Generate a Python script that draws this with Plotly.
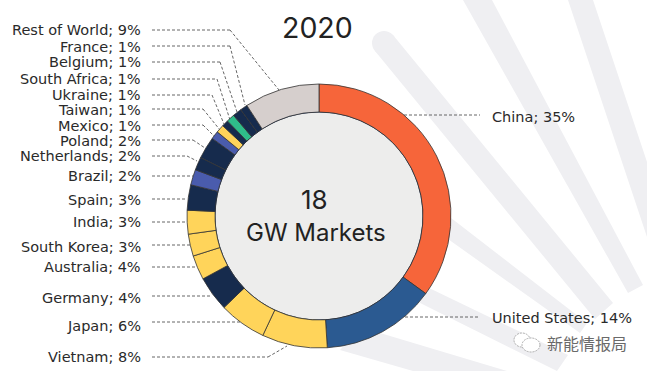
import plotly.graph_objects as go

W, H = 647, 371

# Data (clockwise from 12 o'clock)
markets = ["China", "United States", "Vietnam", "Japan", "Germany", "Australia", "South Korea", "India",
           "Spain", "Brazil", "Netherlands", "Poland", "Mexico", "Taiwan", "Ukraine", "South Africa",
           "Belgium", "France", "Rest of World"]
shares = [35, 14, 8, 5.8, 4.3, 3, 2.7, 2.9, 3.1, 1.9, 1.6, 2.7, 1, 1, 0.8, 1, 1.1, 0.9, 9.2]
printed = [35, 14, 8, 6, 4, 4, 3, 3, 3, 2, 2, 2, 1, 1, 1, 1, 1, 1, 9]
colors = ["#F6653A", "#2B5A91", "#FFD45A", "#FFD45A", "#162B4D", "#FFD45A", "#FFD45A", "#FFD45A",
          "#162B4D", "#4A5CAD", "#162B4D", "#162B4D", "#4A5CAD", "#FFD45A", "#162B4D", "#2FBD8A",
          "#162B4D", "#162B4D", "#D6CFCD"]
title = "2020"
center_number = "18"
center_text = "GW Markets"
watermark = "新能情报局"

# Layout, in page pixels
CX, CY, R, R_IN = 319, 216, 132, 104
LABEL_Y = [117, 318, 357, 326, 298, 267, 247, 222, 200, 176, 156, 141, 125.5, 110, 94.5, 79, 62, 47, 30]
LEADERS = [
    [(404, 115), (480, 115)], [(405, 317), (480, 317)], [(152, 357), (268, 357), (287, 346)],
    [(152, 322), (240, 322)], [(152, 296), (212, 296)], [(152, 267), (196, 267)],
    [(152, 245), (190, 245)], [(152, 222), (187, 222)], [(152, 199), (187, 199)],
    [(152, 176), (193, 176)], [(152, 156), (187, 156), (197, 161)], [(152, 140), (193, 140), (205, 148)],
    [(152, 125), (203, 125), (214, 136)], [(152, 109), (203, 109), (220, 130)],
    [(152, 95), (212, 95), (224, 124)], [(152, 79), (217, 79), (230, 120)],
    [(152, 62), (220, 62), (237, 112)], [(152, 46), (230, 46), (245, 105)],
    [(152, 30), (230, 30), (279, 90)],
]
RAYS = [
    [(463, 0), (492, 0), (643, 285), (628, 293)],
    [(568, 0), (593, 0), (647, 162), (647, 237)],
    [(393, 35), (613, 303), (595, 319), (375, 51)],
    [(420, 194), (587, 323), (580, 333), (410, 212)],
    [(400, 274), (568, 355), (557, 371), (400, 293)],
    [(360, 327), (507, 371), (413, 371), (340, 350)],
]
RAY_COLOR = "#EFEFF2"


def px(x):
    return x / W


def py(y):
    return 1 - y / H


shapes = []
for ray in RAYS:
    d = "M " + " L ".join(f"{px(x):.5f},{py(y):.5f}" for x, y in ray) + " Z"
    shapes.append(dict(type="path", xref="paper", yref="paper", path=d, fillcolor=RAY_COLOR,
                       line=dict(width=0), layer="below"))
shapes.append(dict(type="circle", xref="paper", yref="paper", x0=px(372), x1=px(396), y0=py(55), y1=py(31),
                   fillcolor=RAY_COLOR, line=dict(width=0), layer="below"))
for pts in LEADERS:
    for (x0, y0), (x1, y1) in zip(pts, pts[1:]):
        shapes.append(dict(type="line", xref="paper", yref="paper", x0=px(x0), y0=py(y0), x1=px(x1), y1=py(y1),
                           line=dict(color="#555555", width=0.9, dash="3px,2px"), layer="below"))
shapes.append(dict(type="circle", xref="paper", yref="paper", x0=px(CX - R_IN), x1=px(CX + R_IN),
                   y0=py(CY + R_IN), y1=py(CY - R_IN), fillcolor="#EDEDEC",
                   line=dict(color="#1B3157", width=1), layer="below"))
# WeChat-style mark behind the watermark
for (x0, y0, x1, y1) in [(514, 333, 530, 347), (522, 338, 540, 352)]:
    shapes.append(dict(type="circle", xref="paper", yref="paper", x0=px(x0), x1=px(x1), y0=py(y1), y1=py(y0),
                       fillcolor="#FFFFFF", line=dict(color="#999999", width=0.8, dash="2px,1px"), layer="above"))

FONT = "Inter"
LABEL_FONT = "DejaVu Sans"
INK = "#2A2A2A"
annotations = []
for i, (name, pct, y) in enumerate(zip(markets, printed, LABEL_Y)):
    right = i < 2
    annotations.append(dict(xref="paper", yref="paper", x=px(490 if right else 143), y=py(y),
                            xanchor="left" if right else "right", yanchor="middle", showarrow=False,
                            text=f"{name}; {pct}%", font=dict(family=LABEL_FONT, size=14.5, color=INK)))
for text, x, y, size, family, color in [
    (title, 317, 28, 28.5, FONT, "#222222"),
    (center_number, 314, 200, 26, FONT, "#222222"),
    (center_text, 316, 232, 24, FONT, "#222222"),
    (watermark, 587, 343, 16, "Noto Sans CJK SC", "#6A6A6A"),
]:
    annotations.append(dict(xref="paper", yref="paper", x=px(x), y=py(y), xanchor="center", yanchor="middle",
                            showarrow=False, text=text, font=dict(family=family, size=size, color=color)))

fig = go.Figure(go.Pie(
    labels=markets, values=shares, marker=dict(colors=colors, line=dict(color="#333333", width=0.8)),
    sort=False, direction="clockwise", rotation=0, hole=R_IN / R, textinfo="none", hoverinfo="label+percent",
    domain=dict(x=[px(CX - R), px(CX + R)], y=[py(CY + R), py(CY - R)]), showlegend=False,
))
fig.update_layout(width=W, height=H, margin=dict(l=0, r=0, t=0, b=0), paper_bgcolor="#FFFFFF",
                  shapes=shapes, annotations=annotations)
fig.write_html("out.html", config=dict(displayModeBar=False),
               post_script="document.body.style.margin='0';document.body.style.overflow='hidden';")
